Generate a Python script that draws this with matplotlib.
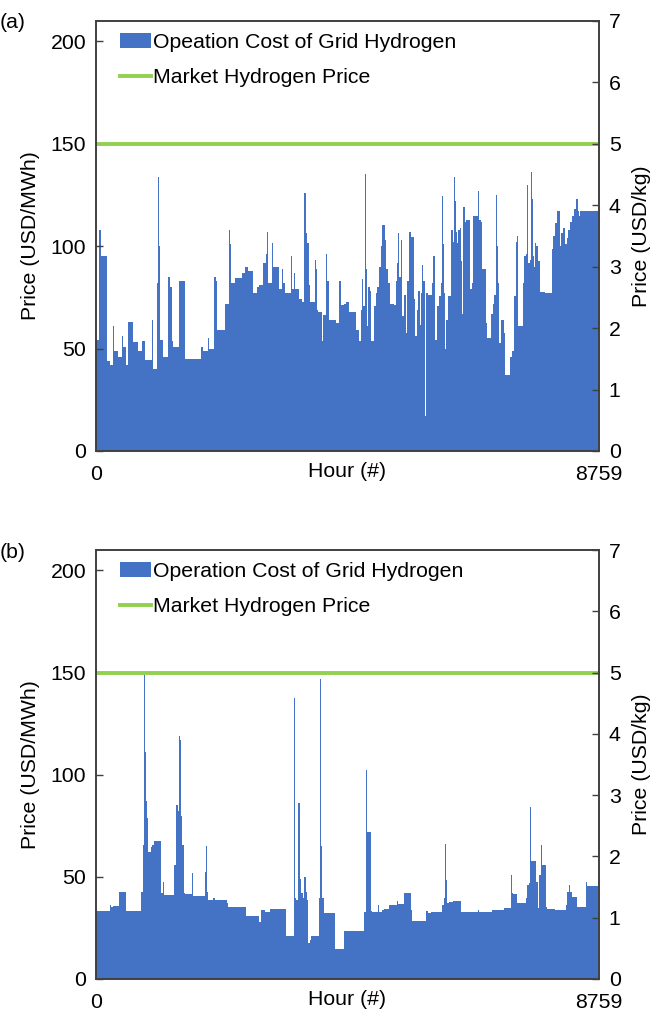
import matplotlib.pyplot as plt

plt.rcParams['font.family'] = ['Liberation Sans', 'DejaVu Sans']
plt.rcParams['font.size'] = 15.3

# Hourly operation cost (USD/MWh): value holds from hour until next hour
hours_a = [0, 45, 60, 81, 197, 244, 302, 316, 389, 447, 462, 517, 563, 650, 725, 795, 853, 969, 984,
           1056, 1080, 1095, 1120, 1172, 1259, 1288, 1329, 1346, 1450, 1543, 1827, 1856, 1943, 1961,
           2059, 2088, 2112, 2240, 2310, 2325, 2345, 2420, 2536, 2594, 2652, 2739, 2809, 2843, 2901,
           2959, 2985, 3000, 3070, 3085, 3185, 3232, 3261, 3290, 3390, 3410, 3440, 3460, 3540, 3580,
           3630, 3650, 3680, 3705, 3730, 3818, 3835, 3850, 3865, 3940, 3960, 4008, 4025, 4050, 4175,
           4240, 4265, 4320, 4360, 4400, 4530, 4580, 4610, 4628, 4645, 4680, 4695, 4710, 4725, 4742,
           4765, 4790, 4840, 4870, 4900, 4930, 4958, 4975, 5035, 5058, 5090, 5120, 5190, 5220, 5248,
           5265, 5280, 5315, 5330, 5365, 5392, 5420, 5450, 5478, 5538, 5555, 5585, 5612, 5636, 5660,
           5684, 5700, 5722, 5738, 5755, 5785, 5855, 5874, 5900, 5930, 5972, 6000, 6018, 6040, 6058,
           6076, 6098, 6125, 6188, 6215, 6232, 6250, 6272, 6290, 6308, 6330, 6350, 6378, 6395, 6418,
           6448, 6510, 6546, 6572, 6645, 6662, 6700, 6728, 6786, 6810, 6878, 6905, 6935, 6960, 6975,
           6992, 7018, 7050, 7100, 7122, 7210, 7245, 7284, 7305, 7330, 7352, 7428, 7458, 7485, 7498,
           7515, 7555, 7572, 7590, 7606, 7625, 7642, 7670, 7700, 7730, 7815, 7932, 7960, 7990, 8020,
           8078, 8105, 8135, 8165, 8194, 8222, 8250, 8292, 8326, 8355, 8385, 8408, 8428, 8759]
cost_a = [54, 119, 108, 95, 44, 42, 61, 49, 46, 56, 51, 42, 63, 53, 49, 53.5, 44.5, 64, 40,
          82, 134, 100, 54, 46, 85, 80, 53.5, 51, 83, 45, 51, 49, 55, 50,
          85, 83, 59, 72, 108, 101, 82, 84.5, 87, 90, 88, 77, 80, 81, 92,
          96, 107, 82, 101.6, 90, 79, 89, 82, 77, 95, 79, 87, 79, 74, 72.6,
          126, 106.5, 101.6, 81, 73, 93.5, 89, 69, 68, 53.5, 66.5, 96, 83, 64, 62.5,
          83, 71.5, 72, 73, 68, 59, 53.5, 69, 84, 70.6, 135.5, 102, 89, 61, 80,
          78, 53.5, 70.6, 77, 80, 90, 100, 110.6, 103, 89, 82, 72, 71.5, 83, 92,
          106.5, 85, 103, 66, 76, 57.6, 83, 107, 104.6, 74, 56, 69, 78, 61.7, 77,
          91, 83, 17, 89, 77, 76, 82, 95, 54, 70.6, 75.5, 82, 124.5, 101, 77,
          50, 64, 75.5, 108, 102, 134, 122, 107, 101.6, 108, 109, 92.7, 67, 119, 112,
          113, 79, 82, 114.7, 127, 113, 112, 89, 62.5, 55, 67, 72, 76, 125, 100,
          82, 52.7, 64, 57.6, 37, 46, 48.6, 75.5, 102, 105, 61, 82, 95, 96, 130,
          92, 93.5, 136, 123, 95, 90, 101.6, 100, 92.7, 77.5, 77, 98.5, 105, 111.4, 117,
          100, 106.5, 109, 101, 104, 108, 112, 114.7, 118, 123, 117, 114.7, 117, 117]

hours_b = [0, 240, 268, 300, 400, 530, 790, 820, 836, 848, 865, 890, 905, 952, 980, 1010, 1140, 1168,
           1182, 1355, 1388, 1428, 1445, 1470, 1487, 1503, 1527, 1545, 1678, 1692, 1898, 1920, 1938,
           1956, 2040, 2066, 2280, 2300, 2608, 2840, 2880, 2940, 3025, 3315, 3442, 3458, 3488, 3516,
           3545, 3570, 3605, 3628, 3650, 3675, 3692, 3722, 3750, 3882, 3894, 3910, 3928, 3965, 4155,
           4318, 4668, 4696, 4712, 4790, 4812, 4916, 4930, 4975, 5015, 5100, 5236, 5262, 5370, 5480,
           5508, 5740, 5788, 5828, 6030, 6058, 6076, 6090, 6118, 6146, 6215, 6350, 6655, 6670, 6900,
           7110, 7225, 7240, 7268, 7330, 7485, 7510, 7540, 7562, 7575, 7655, 7690, 7712, 7748, 7770,
           7790, 7830, 7862, 7990, 8182, 8210, 8240, 8262, 8282, 8375, 8530, 8552, 8759]
cost_b = [33.3, 36, 35, 35.5, 42.5, 33.5, 42.8, 65.7, 149, 111, 87, 79, 62.4, 64.4, 65.7, 67.6, 42, 47.7,
          41, 56, 85, 82, 119, 117, 79.6, 65.7, 42, 41.5, 51.8, 40.8, 52.6, 64.9, 42.8,
          38.7, 39.5, 38.7, 37, 35, 30.6, 27.8, 33.8, 33, 34.3, 20.8, 137.6, 39.5, 38.7, 86,
          49, 42, 39.5, 50, 42.8, 38.7, 17.5, 19, 20.8, 39.5, 147, 65, 39.5, 32.2, 14.5,
          23.7, 33, 102.5, 72, 33.5, 33, 36, 33, 33.8, 34.3, 36, 38, 36.6, 42.3, 33.8,
          28.6, 33.5, 32.2, 32.7, 36.3, 39.5, 66, 48.5, 37, 37.6, 38.4, 33, 33.8, 32.7, 33.8,
          34.6, 50.7, 42, 41.8, 37.4, 39.5, 46, 47, 84, 57.8, 47.7, 34.6, 51, 65.7, 55.6,
          55.9, 35, 34.2, 33.8, 36.3, 42.8, 45.8, 42.8, 39.9, 35, 47.7, 45.6, 45.6]

market_price = 150  # USD/MWh, i.e. 5 USD/kg
labels_a = ['Opeation Cost of Grid Hydrogen', 'Market Hydrogen Price']
labels_b = ['Operation Cost of Grid Hydrogen', 'Market Hydrogen Price']

blue = '#4472C4'
green = '#92D050'
spine_col = '#404040'

fig = plt.figure(figsize=(6.6, 10.13), dpi=100)
W = 503 / 660
panels = [
    ([96 / 660, 0.5548, W, 0.4245], hours_a, cost_a, labels_a, '(a)'),
    ([96 / 660, 0.0336, W, 0.4234], hours_b, cost_b, labels_b, '(b)'),
]

for rect, hrs, cost, labels, tag in panels:
    ax = fig.add_axes(rect)
    ax.fill_between(hrs, cost, 0, step='post', color=blue, linewidth=0, label=labels[0])
    ax.plot([0, 8759], [market_price, market_price], color=green, lw=2.8, label=labels[1])
    ax.set_xlim(0, 8759)
    ax.set_ylim(0, 210)
    ax.set_yticks([0, 50, 100, 150, 200])
    ax.set_xticks([0, 8759])
    ax.set_xticklabels(['0', '8759'])
    ax.tick_params(axis='x', length=0, pad=10)
    ax.tick_params(axis='y', direction='in', length=5, width=1, pad=7, colors=spine_col, labelcolor='black')
    ax.set_ylabel('Price (USD/MWh)', labelpad=8)
    ax.set_xlabel('Hour (#)', labelpad=-16)
    for s in ax.spines.values():
        s.set_color(spine_col)
        s.set_linewidth(1.2)

    ax2 = ax.twinx()
    ax2.set_ylim(0, 7)
    ax2.set_yticks(range(8))
    ax2.tick_params(axis='y', direction='in', length=5, width=1, pad=7, colors=spine_col, labelcolor='black')
    ax2.set_ylabel('Price (USD/kg)', labelpad=8)
    for s in ax2.spines.values():
        s.set_color(spine_col)
        s.set_linewidth(1.2)

    ax.legend(loc='upper left', bbox_to_anchor=(0.018, 1.006), frameon=False, handlelength=1.45,
              handletextpad=0.12, labelspacing=0.75, borderaxespad=0.3)

    top = rect[1] + rect[3]
    fig.text(0.0, top - 0.002, tag, ha='left', va='center', fontsize=15.3)

fig.savefig('out.png', dpi=100)
